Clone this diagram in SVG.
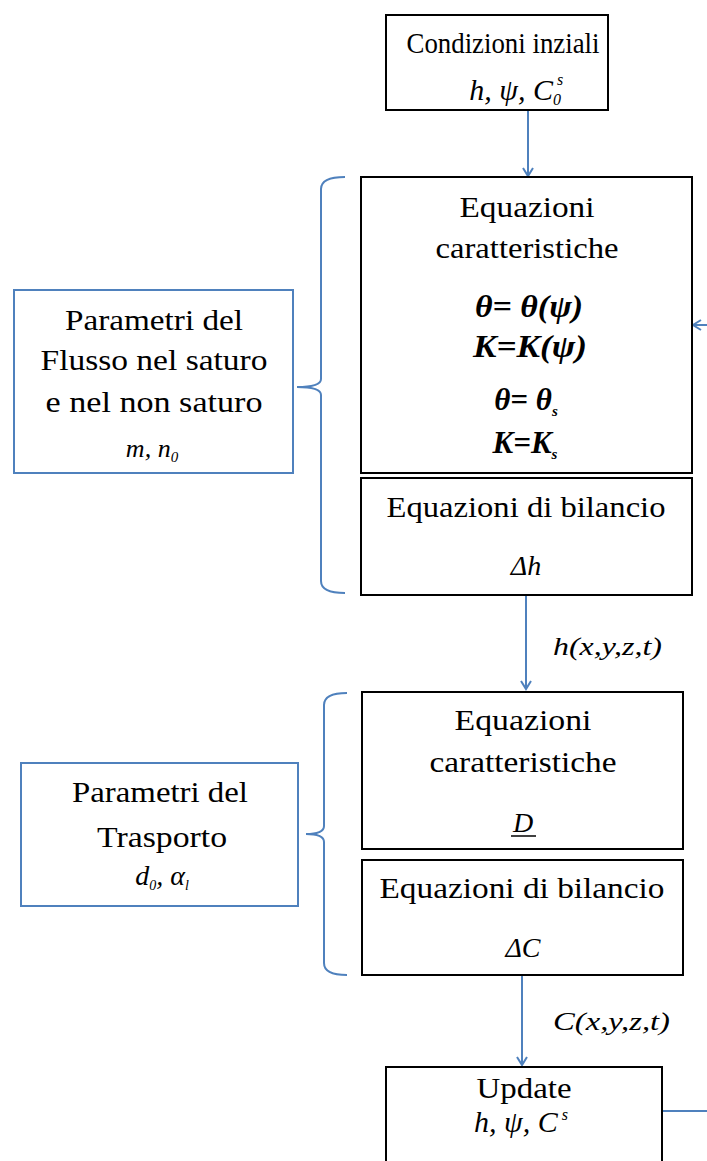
<svg xmlns="http://www.w3.org/2000/svg" width="707" height="1161" viewBox="0 0 707 1161">
<defs>
<style>
.box{fill:#fff;stroke:#000;stroke-width:2}
.pbox{fill:#fff;stroke:#4F81BD;stroke-width:2}
.ln{fill:none;stroke:#4F81BD;stroke-width:2}
.t{font-family:"Liberation Serif","Times New Roman",serif;font-size:30px;fill:#000;text-anchor:middle}
.m{font-family:"Liberation Serif","Times New Roman",serif;font-size:28px;font-style:italic;fill:#000;text-anchor:middle}
.mb{font-family:"Liberation Serif","Times New Roman",serif;font-size:31px;font-style:italic;font-weight:bold;fill:#000;text-anchor:middle}
.lb{font-family:"Liberation Serif","Times New Roman",serif;font-size:26px;font-style:italic;fill:#000}
</style>
<marker id="ah" markerWidth="12" markerHeight="12" refX="10" refY="6" orient="auto" markerUnits="userSpaceOnUse">
<path d="M2,1 L10,6 L2,11" fill="none" stroke="#4F81BD" stroke-width="2"/>
</marker>
</defs>
<rect width="707" height="1161" fill="#fff"/>

<g id="connectors">
<line class="ln" x1="528" y1="110" x2="528" y2="176" marker-end="url(#ah)"/>
<line class="ln" x1="707" y1="325" x2="693" y2="325" marker-end="url(#ah)"/>
<line class="ln" x1="526" y1="595" x2="526" y2="689" marker-end="url(#ah)"/>
<line class="ln" x1="522" y1="975" x2="522" y2="1065" marker-end="url(#ah)"/>
<line class="ln" x1="662" y1="1111" x2="707" y2="1111"/>
<path class="ln" d="M345,177 Q321,177 321,189 L321,379 Q321,387 297,387 Q321,387 321,395 L321,581 Q321,593 345,593"/>
<path class="ln" d="M347,693 Q324,693 324,705 L324,826 Q324,834 306,834 Q324,834 324,842 L324,963 Q324,975 347,975"/>
<text class="lb" x="553" y="655" textLength="109" lengthAdjust="spacingAndGlyphs">h(x,y,z,t)</text>
<text class="lb" x="553" y="1030" textLength="117" lengthAdjust="spacingAndGlyphs">C(x,y,z,t)</text>
</g>

<g id="condizioni">
<rect class="box" x="386" y="15" width="222" height="95"/>
<text class="t" x="503" y="53" textLength="193" lengthAdjust="spacingAndGlyphs" style="font-size:29px">Condizioni inziali</text>
<text class="m" x="553" y="100" style="font-size:30px;text-anchor:end">h, ψ, C</text>
<text class="m" x="553" y="105" style="font-size:16px;text-anchor:start">0</text>
<text class="m" x="557" y="85" style="font-size:16px;text-anchor:start">s</text>
</g>

<g id="eq-car-flusso">
<rect class="box" x="361" y="177" width="331" height="296"/>
<text class="t" x="527" y="217" textLength="135" lengthAdjust="spacingAndGlyphs">Equazioni</text>
<text class="t" x="527" y="258" textLength="183" lengthAdjust="spacingAndGlyphs">caratteristiche</text>
<text class="mb" x="529" y="317" textLength="108" lengthAdjust="spacingAndGlyphs">θ= θ(ψ)</text>
<text class="mb" x="530" y="357" textLength="114" lengthAdjust="spacingAndGlyphs">K=K(ψ)</text>
<text class="mb" x="526" y="410">θ= θ<tspan font-size="15" dy="6">s</tspan></text>
<text class="mb" x="525" y="453">K=K<tspan font-size="15" dy="6">s</tspan></text>
</g>

<g id="eq-bil-flusso">
<rect class="box" x="361" y="478" width="331" height="117"/>
<text class="t" x="526" y="517" textLength="279" lengthAdjust="spacingAndGlyphs">Equazioni di bilancio</text>
<text class="m" x="526" y="575">Δh</text>
</g>

<g id="param-flusso">
<rect class="pbox" x="14" y="290" width="279" height="183"/>
<text class="t" x="154" y="330" textLength="178" lengthAdjust="spacingAndGlyphs">Parametri del</text>
<text class="t" x="154" y="370" textLength="227" lengthAdjust="spacingAndGlyphs">Flusso nel saturo</text>
<text class="t" x="154" y="412" textLength="217" lengthAdjust="spacingAndGlyphs">e nel non saturo</text>
<text class="m" x="152" y="457" style="font-size:26px">m, n<tspan font-size="15" dy="5">0</tspan></text>
</g>

<g id="eq-car-trasporto">
<rect class="box" x="362" y="692" width="321" height="157"/>
<text class="t" x="523" y="730" textLength="137" lengthAdjust="spacingAndGlyphs">Equazioni</text>
<text class="t" x="523" y="772" textLength="187" lengthAdjust="spacingAndGlyphs">caratteristiche</text>
<text class="m" x="523" y="832">D</text>
<line x1="511" y1="836" x2="536" y2="836" stroke="#000" stroke-width="1.5"/>
</g>

<g id="eq-bil-trasporto">
<rect class="box" x="362" y="860" width="321" height="115"/>
<text class="t" x="522" y="898" textLength="285" lengthAdjust="spacingAndGlyphs">Equazioni di bilancio</text>
<text class="m" x="523" y="957">ΔC</text>
</g>

<g id="param-trasporto">
<rect class="pbox" x="21" y="763" width="277" height="143"/>
<text class="t" x="160" y="802" textLength="176" lengthAdjust="spacingAndGlyphs">Parametri del</text>
<text class="t" x="162" y="847" textLength="130" lengthAdjust="spacingAndGlyphs">Trasporto</text>
<text class="m" x="162" y="885">d<tspan font-size="14" dy="5">0</tspan><tspan dy="-5">, α</tspan><tspan font-size="14" dy="5">l</tspan></text>
</g>

<g id="update">
<rect class="box" x="386" y="1067" width="276" height="110"/>
<text class="t" x="524" y="1098" textLength="95" lengthAdjust="spacingAndGlyphs" style="font-size:29px">Update</text>
<text class="m" x="521" y="1132" style="font-size:30px">h, ψ, C<tspan font-size="16" dy="-12" dx="4">s</tspan></text>
</g>
</svg>
